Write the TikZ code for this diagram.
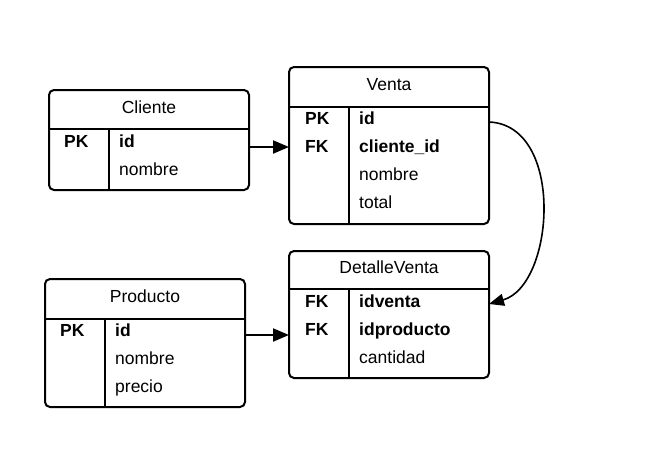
\documentclass[tikz,border=0pt]{standalone}
\usepackage{fontspec}
\setmainfont{Liberation Sans}
\usetikzlibrary{arrows.meta,fit}

\tikzset{
	tabla/.style={draw, line width=2pt, rounded corners=5pt, inner sep=0pt, outer sep=0pt},
	linea/.style={line width=2pt},
	titulo/.style={anchor=base, inner sep=0pt, font=\fontsize{17.5}{20}\selectfont},
	campo/.style={anchor=base west, inner sep=0pt, font=\fontsize{17.5}{20}\selectfont},
	clave/.style={campo, font=\fontsize{17.5}{20}\selectfont\bfseries},
	flecha/.style={line width=2pt, -{Triangle[length=16pt,width=13pt]}},
	curva/.style={line width=1.6pt, -{Triangle[length=15pt,width=12pt]}}
}

\begin{document}
\begin{tikzpicture}[x=1pt,y=-1pt]
		\useasboundingbox (0,0) rectangle (671,452);

		% Tabla Cliente
		\node[tabla, fit={(49,90) (249,190)}] (cliente) {};
		\draw[linea] (cliente.west |- 0,129) -- (cliente.east |- 0,129);
		\draw[linea] (109,129) -- (cliente.south -| 109,0);
		\node[titulo] (clienteT) at (149,113) {Cliente};
		\node[clave] (clientePK) at (64,147) {PK};
		\node[clave] (clienteId) at (119,147) {id};
		\node[campo] (clienteNombre) at (119,175) {nombre};

		% Tabla Venta
		\node[tabla, fit={(289,67) (489,224)}] (venta) {};
		\draw[linea] (venta.west |- 0,107) -- (venta.east |- 0,107);
		\draw[linea] (349,107) -- (venta.south -| 349,0);
		\node[titulo] (ventaT) at (389,90) {Venta};
		\node[clave] (ventaPK) at (305,124) {PK};
		\node[clave] (ventaFK) at (305,152) {FK};
		\node[clave] (ventaId) at (359,124) {id};
		\node[clave] (ventaCliente) at (359,152) {cliente\_id};
		\node[campo] (ventaNombre) at (359,180) {nombre};
		\node[campo] (ventaTotal) at (359,208) {total};

		% Tabla DetalleVenta
		\node[tabla, fit={(289,251) (489,378)}] (detalle) {};
		\draw[linea] (detalle.west |- 0,289) -- (detalle.east |- 0,289);
		\draw[linea] (349,289) -- (detalle.south -| 349,0);
		\node[titulo] (detalleT) at (389,273) {DetalleVenta};
		\node[clave] (detalleFK1) at (305,307) {FK};
		\node[clave] (detalleFK2) at (305,335) {FK};
		\node[clave] (detalleVenta) at (359,307) {idventa};
		\node[clave] (detalleProducto) at (359,335) {idproducto};
		\node[campo] (detalleCantidad) at (359,363) {cantidad};

		% Tabla Producto
		\node[tabla, fit={(45,279) (245,407)}] (producto) {};
		\draw[linea] (producto.west |- 0,319) -- (producto.east |- 0,319);
		\draw[linea] (105,319) -- (producto.south -| 105,0);
		\node[titulo] (productoT) at (145,302) {Producto};
		\node[clave] (productoPK) at (60,336) {PK};
		\node[clave] (productoId) at (115,336) {id};
		\node[campo] (productoNombre) at (115,364) {nombre};
		\node[campo] (productoPrecio) at (115,392) {precio};

		% Relaciones
		\draw[flecha] (cliente.east |- 0,147) -- (venta.west |- 0,147);
		\draw[flecha] (producto.east |- 0,335) -- (detalle.west |- 0,335);
		\draw[curva] (venta.east |- 0,122) .. controls (565,125) and (555,285) .. (detalle.east |- 0,304);
	\end{tikzpicture}
\end{document}
